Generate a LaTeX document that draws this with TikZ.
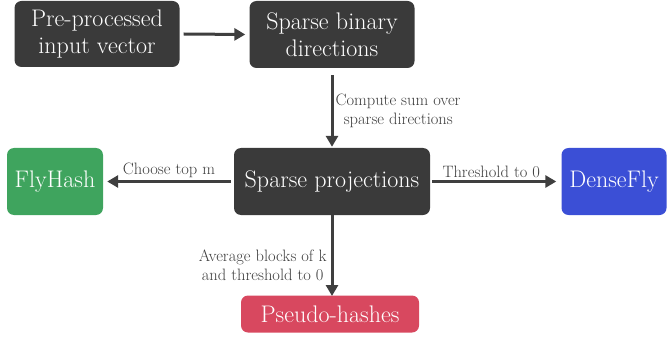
\documentclass[tikz,border=0pt]{standalone}
\usetikzlibrary{arrows.meta}
\definecolor{boxdark}{HTML}{3A3A3A}
\definecolor{boxgreen}{HTML}{3FA45E}
\definecolor{boxblue}{HTML}{3B4FD6}
\definecolor{boxred}{HTML}{D8485F}
\definecolor{linkgray}{HTML}{3F3F3F}
\definecolor{labelgray}{HTML}{3E3E3E}
\tikzset{
  stagebox/.style={rounded corners=7pt, inner sep=0pt, text=white,
    font=\fontsize{24}{27}\selectfont, align=center},
  link/.style={draw=linkgray, line width=3pt, -{Triangle[length=11pt,width=12pt]}},
  linklabel/.style={text=labelgray, font=\fontsize{16.5}{19}\selectfont, inner sep=1pt}
}
\begin{document}
\begin{tikzpicture}[x=1pt,y=-1pt]
\useasboundingbox (0,0) rectangle (668,339);
\node[stagebox, fill=boxdark, minimum width=165pt, minimum height=66pt] (input) at (97,34) {Pre-processed\\input vector};
\node[stagebox, fill=boxdark, minimum width=165pt, minimum height=67pt] (dirs) at (332,34.5) {Sparse binary\\directions};
\node[stagebox, fill=boxdark, minimum width=196pt, minimum height=67pt] (proj) at (332,181.5) {Sparse projections};
\node[stagebox, fill=boxgreen, minimum width=96pt, minimum height=67pt] (fly) at (55,181.5) {FlyHash};
\node[stagebox, fill=boxblue, minimum width=105pt, minimum height=67pt] (dense) at (614,181.5) {DenseFly};
\node[stagebox, fill=boxred, minimum width=178pt, minimum height=37pt] (pseudo) at (330,314) {Pseudo-hashes};

\coordinate (pseudotop) at (332,296);
\draw[link] ([xshift=4pt]input.east) -- ([xshift=-4pt]dirs.west);
\draw[link] ([yshift=-7pt]dirs.south) -- node[linklabel, right, align=left, xshift=1pt] {Compute sum over\\\hspace*{0.5em}sparse directions} ([yshift=1pt]proj.north);
\draw[link] ([xshift=-3pt]proj.west) -- node[linklabel, above, yshift=1pt] {Choose top m} ([xshift=4pt]fly.east);
\draw[link] ([xshift=2pt]proj.east) -- node[linklabel, above, yshift=1pt, xshift=-3pt] {Threshold to 0} ([xshift=-5pt]dense.west);
\draw[link] (proj.south) -- node[linklabel, left, align=center, xshift=-3pt, yshift=-10pt] {Average blocks of k\\and threshold to 0} (pseudotop);
\end{tikzpicture}
\end{document}
